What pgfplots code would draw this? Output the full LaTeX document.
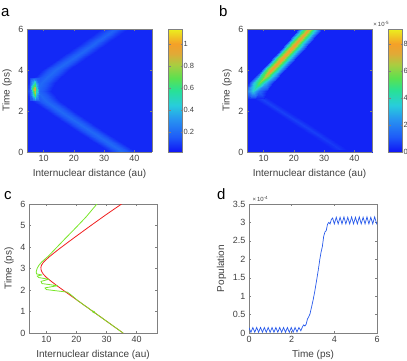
\documentclass[border=0pt]{standalone}
\usepackage{pgfplots}
\pgfplotsset{compat=1.18}
\usepackage{fontspec}
\setmainfont{Liberation Sans}
\setsansfont{Liberation Sans}
\definecolor{txt}{gray}{0.25}
\definecolor{axc}{gray}{0.5}
\definecolor{myred}{RGB}{240,30,30}
\definecolor{mygreen}{RGB}{120,230,40}
\definecolor{myblue}{RGB}{40,90,235}
\pgfplotsset{
  colormap={heat}{rgb255(0pt)=(15,20,245); rgb255(12pt)=(30,90,248); rgb255(27pt)=(40,150,240); rgb255(38pt)=(40,205,220); rgb255(50pt)=(40,225,150); rgb255(60pt)=(90,225,80); rgb255(71pt)=(170,205,65); rgb255(80pt)=(225,170,55); rgb255(88pt)=(245,160,40); rgb255(100pt)=(235,240,30)},
  base/.style={
    scale only axis,
    anchor=south west,
    tick label style={text=txt, font=\fontsize{9}{10}\selectfont},
    label style={text=txt, font=\fontsize{10}{11}\selectfont},
    axis line style={axc},
    every tick/.style={axc, line width=0.4pt},
    tick align=inside,
    major tick length=2pt,
    /pgf/number format/assume math mode=true,
  },
  heatax/.style={
    base, view={0}{90}, axis on top, colormap name=heat,
    zmin=-1, zmax=1,
    xmin=4.5, xmax=45.8, ymin=0, ymax=6,
    xtick={10,20,30,40}, ytick={0,2,4,6},
    xlabel={Internuclear distance (au)}, ylabel={Time (ps)},
    width=125pt, height=123pt,
  },
  cbar/.style={
    at={(parent axis.north east)}, anchor=north west, xshift=8pt,
    scale only axis, width=14pt, height=123pt,
    yticklabel style={text=txt, font=\fontsize{7.5}{8}\selectfont, inner sep=1pt},
    axis line style={axc}, every tick/.style={axc, line width=0.4pt},
    tick align=inside, major tick length=2pt,
    /pgf/number format/assume math mode=true,
  },
}
\begin{document}
\begin{tikzpicture}
\useasboundingbox (0pt,0pt) rectangle (407pt,-360pt);

% ---------------- a ----------------
\begin{axis}[heatax, at={(27pt,-152pt)},
  point meta min=0.02, point meta max=1.14, colorbar,
  colorbar style={cbar, ytick={0.2,0.4,0.6,0.8,1}}]
\addplot3[surf, shader=interp, mesh/cols=2, point meta=explicit] table[meta=c] {
x y z c
4 -0.1 0 0.06
47 -0.1 0 0.06
4 6.1 0 0.06
47 6.1 0 0.06
};
% lower branch
\addplot3[surf, shader=interp, mesh/cols=5, point meta=explicit] table[meta=c] {
x y z c
32.8 -0.1 0 0.06
35.1 -0.1 0 0.14
37.3 -0.1 0 0.20
39.5 -0.1 0 0.14
41.8 -0.1 0 0.06
21.4 1 0 0.06
23.7 1 0 0.14
25.9 1 0 0.20
28.1 1 0 0.14
30.4 1 0 0.06
11.0 2 0 0.06
13.3 2 0 0.14
15.5 2 0 0.20
17.7 2 0 0.14
20.0 2 0 0.06
6.3 2.5 0 0.06
8.6 2.5 0 0.14
10.8 2.5 0 0.20
13.0 2.5 0 0.14
15.3 2.5 0 0.06
3.3 3.0 0 0.06
5.6 3.0 0 0.14
7.8 3.0 0 0.20
10.0 3.0 0 0.14
12.3 3.0 0 0.06
};
% upper branch
\addplot3[surf, shader=interp, mesh/cols=5, point meta=explicit] table[meta=c] {
x y z c
3.3 3.0 0 0.06
5.6 3.0 0 0.14
7.8 3.0 0 0.20
10.0 3.0 0 0.14
12.3 3.0 0 0.06
5.0 3.4 0 0.06
7.3 3.4 0 0.14
9.5 3.4 0 0.20
11.7 3.4 0 0.14
14.0 3.4 0 0.06
9.3 4 0 0.06
11.6 4 0 0.14
13.8 4 0 0.20
16.0 4 0 0.14
18.3 4 0 0.06
19.1 5 0 0.06
21.4 5 0 0.13
23.6 5 0 0.19
25.8 5 0 0.13
28.1 5 0 0.06
30.0 6.1 0 0.06
32.3 6.1 0 0.12
34.5 6.1 0 0.18
36.7 6.1 0 0.12
39.0 6.1 0 0.06
};
% bright spot at turning point
\addplot3[surf, shader=interp, mesh/cols=5, point meta=explicit] table[meta=c] {
x y z c
5.6 2.5 0 0.12
6.4 2.5 0 0.16
7.0 2.5 0 0.18
7.6 2.5 0 0.17
8.5 2.5 0 0.16
5.6 2.8 0 0.18
6.4 2.8 0 0.45
7.0 2.8 0 0.70
7.6 2.8 0 0.40
8.5 2.8 0 0.20
5.6 3.05 0 0.22
6.4 3.05 0 0.75
7.0 3.05 0 1.00
7.6 3.05 0 0.60
8.5 3.05 0 0.22
5.6 3.3 0 0.18
6.4 3.3 0 0.45
7.0 3.3 0 0.65
7.6 3.3 0 0.40
8.5 3.3 0 0.20
5.6 3.6 0 0.12
6.4 3.6 0 0.16
7.0 3.6 0 0.18
7.6 3.6 0 0.17
8.5 3.6 0 0.16
};
\end{axis}

% ---------------- b ----------------
\begin{axis}[heatax, at={(247pt,-152pt)},
  point meta min=0, point meta max=9.1, colorbar,
  colorbar style={cbar, ytick={0,2,4,6,8}}]
\addplot3[surf, shader=interp, mesh/cols=2, point meta=explicit] table[meta=c] {
x y z c
4 -0.1 0 0.25
47 -0.1 0 0.25
4 6.1 0 0.25
47 6.1 0 0.25
};
% faint lower branch
\addplot3[surf, shader=interp, mesh/cols=3, point meta=explicit] table[meta=c] {
x y z c
33.0 0.1 0 0.25
35.5 0.1 0 0.55
38.0 0.1 0 0.25
21.5 1.23 0 0.25
24.0 1.23 0 0.7
26.5 1.23 0 0.25
12.7 2.05 0 0.25
15.2 2.05 0 0.7
17.7 2.05 0 0.25
3.9 2.9 0 0.25
6.4 2.9 0 0.7
8.9 2.9 0 0.25
};
% main branch
\addplot3[surf, shader=interp, mesh/cols=5, point meta=explicit] table[meta=c] {
x y z c
2.0 2.6 0 0.25
3.9 2.6 0 0.25
5.5 2.6 0 0.25
7.5 2.6 0 0.25
10.0 2.6 0 0.25
3.0 3.0 0 0.25
4.9 3.0 0 2.0
6.5 3.0 0 3.5
8.5 3.0 0 1.5
11.0 3.0 0 0.25
5.3 3.4 0 0.25
7.2 3.4 0 3.8
8.8 3.4 0 5.8
10.8 3.4 0 3.2
13.3 3.4 0 0.25
9.0 4.0 0 0.25
10.9 4.0 0 5.0
12.5 4.0 0 8.0
14.5 4.0 0 4.2
17.0 4.0 0 0.25
15.3 5.0 0 0.25
17.2 5.0 0 5.0
18.8 5.0 0 8.2
20.8 5.0 0 4.2
23.3 5.0 0 0.25
22.1 6.1 0 0.25
24.0 6.1 0 4.6
25.6 6.1 0 7.6
27.6 6.1 0 3.8
30.1 6.1 0 0.25
};
\end{axis}
\node[text=txt, font=\fontsize{6}{7}\selectfont] at (381pt,-24pt) {×\,10\raisebox{0.55ex}{\fontsize{4.5}{5}\selectfont -5}};

% ---------------- c ----------------
\begin{axis}[base, at={(29pt,-333pt)}, width=128pt, height=129pt,
  xmin=4.2, xmax=46.8, ymin=0, ymax=6,
  xtick={10,20,30,40}, ytick={0,1,2,3,4,5,6},
  xlabel={Internuclear distance (au)}, ylabel={Time (ps)}]
\addplot[myred, line width=0.8pt] coordinates {
(35.5,0) (30.5,0.5) (25.5,1.0) (20.5,1.5) (15.5,2.0) (13.8,2.17) (12.3,2.33)
(11.0,2.47) (9.9,2.6) (9.0,2.73) (8.5,2.84) (8.2,2.95) (8.15,3.05) (8.35,3.15)
(8.9,3.27) (9.8,3.4) (11.0,3.55) (12.5,3.72) (14.4,3.93) (16.5,4.15) (19.7,4.48)
(24.6,4.98) (29.6,5.48) (35.0,6.0)};
\addplot[mygreen, line width=0.8pt, line join=round] coordinates {
(35.5,0) (30.5,0.5) (26.3,0.92) (25.4,0.97) (26.0,1.0) (25.2,1.03) (20.5,1.5)
(18.3,1.76) (17.0,1.9) (10.0,2.02) (9.5,2.1) (13.7,2.2) (8.5,2.3) (8.2,2.4)
(10.8,2.5) (7.4,2.58) (6.9,2.65) (8.5,2.7) (6.7,2.75) (6.6,2.85) (6.9,3.0)
(7.5,3.15) (8.4,3.3) (9.6,3.45) (10.6,3.57) (13.0,3.92) (16.3,4.4) (19.8,4.9)
(23.2,5.4) (26.8,6.0)};
\end{axis}

% ---------------- d ----------------
\begin{axis}[base, at={(249pt,-333pt)}, width=128pt, height=129pt,
  xmin=0, xmax=6, ymin=0, ymax=3.5,
  xtick={0,2,4,6}, ytick={0,0.5,1,1.5,2,2.5,3,3.5},
  xlabel={Time (ps)}, ylabel={Population}]
\addplot[myblue, line width=0.7pt] coordinates {
(0.00,0.14) (0.09,0.02) (0.18,0.15) (0.27,0.02) (0.36,0.15) (0.45,0.02)
(0.54,0.15) (0.63,0.02) (0.72,0.15) (0.81,0.02) (0.90,0.15) (0.99,0.02)
(1.08,0.15) (1.17,0.02) (1.26,0.15) (1.35,0.02) (1.44,0.15) (1.53,0.02)
(1.62,0.15) (1.71,0.02) (1.80,0.15) (1.89,0.02) (1.98,0.15) (2.07,0.02)
(2.16,0.15) (2.25,0.03) (2.34,0.15) (2.43,0.06) (2.50,0.16) (2.56,0.22)
(2.62,0.19) (2.68,0.24) (2.74,0.38) (2.80,0.44) (2.86,0.52) (2.93,0.70)
(3.00,0.88) (3.08,1.12) (3.16,1.40) (3.24,1.68) (3.32,2.00) (3.38,2.20)
(3.44,2.35) (3.50,2.62) (3.56,2.74) (3.62,2.78) (3.68,2.95) (3.74,3.00)
(3.80,2.96) (3.86,3.08) (3.92,3.12) (4.00,2.96) (4.09,3.14) (4.18,2.96)
(4.27,3.14) (4.36,2.96) (4.45,3.15) (4.54,2.96) (4.63,3.14) (4.72,2.96)
(4.81,3.15) (4.90,2.96) (4.99,3.14) (5.08,2.96) (5.17,3.15) (5.26,2.96)
(5.35,3.14) (5.44,2.96) (5.53,3.15) (5.62,2.96) (5.71,3.14) (5.80,2.96)
(5.89,3.15) (5.98,2.97) (6.00,3.00)};
\end{axis}
\node[text=txt, font=\fontsize{6}{7}\selectfont, anchor=west] at (249pt,-199pt) {×\,10\raisebox{0.55ex}{\fontsize{4.5}{5}\selectfont -4}};

% panel letters
\node[font=\fontsize{15}{16}\selectfont, anchor=base west, inner sep=0pt] at (1pt,-16pt) {a};
\node[font=\fontsize{15}{16}\selectfont, anchor=base west, inner sep=0pt] at (219pt,-16pt) {b};
\node[font=\fontsize{15}{16}\selectfont, anchor=base west, inner sep=0pt] at (4pt,-199pt) {c};
\node[font=\fontsize{15}{16}\selectfont, anchor=base west, inner sep=0pt] at (217pt,-199pt) {d};
\end{tikzpicture}
\end{document}
